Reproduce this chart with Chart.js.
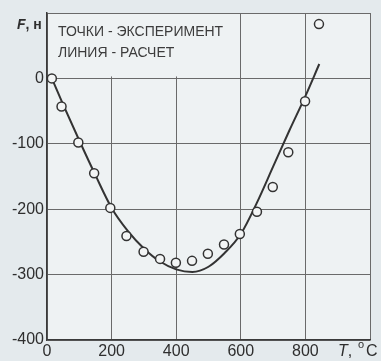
<!DOCTYPE html>
<html>
<head>
<meta charset="utf-8">
<script src="https://cdn.jsdelivr.net/npm/chart.js@4/dist/chart.umd.min.js"></script>
<style>
  html, body { margin: 0; padding: 0; background: #e4eaed; }
  #wrap { width: 381px; height: 361px; }
</style>
</head>
<body>
<div id="wrap"><canvas id="myChart" width="381" height="361"></canvas></div>
<script>
// experiment (points)
var expT = [15, 45, 97, 146, 196, 246, 299, 350, 399, 449, 498, 548, 597, 650, 699, 747, 799, 842];
var expF = [0, -43, -98, -145, -198, -241, -265, -276, -282, -279, -268, -254, -238, -204, -166, -113, -35, 83];
// calculation (line)
var calcT = [15, 50, 100, 150, 200, 250, 300, 350, 400, 450, 500, 550, 600, 650, 700, 750, 800, 843];
var calcF = [0, -40, -95, -148, -198, -233, -260, -280, -292, -296, -288, -267, -238, -190, -135, -80, -27, 22];

var xTicks = [0, 200, 400, 600, 800];
var yTicks = [-400, -300, -200, -100, 0];

var legendLines = ['ТОЧКИ - ЭКСПЕРИМЕНТ', 'ЛИНИЯ - РАСЧЕТ'];

var pageColor = '#e4eaed';
var plotColor = '#eef2f3';
var ink = '#2e2e2e';

function toXY(xs, ys) {
    var out = [];
    for (var i in xs) out.push({x: xs[i], y: ys[i]});
    return out;
}

var paper = {
    id: 'paper',
    beforeDraw: function(chart) {
        var c = chart.ctx, a = chart.chartArea;
        c.save();
        c.fillStyle = pageColor;
        c.fillRect(0, 0, chart.width, chart.height);
        c.fillStyle = plotColor;
        c.fillRect(a.left, a.top, a.right - a.left, a.bottom - a.top);
        c.restore();
    },
    beforeDatasetsDraw: function(chart) {
        // legend box in upper left, hides the grid behind it
        var c = chart.ctx, a = chart.chartArea;
        var sx = chart.scales.x, sy = chart.scales.y;
        var r = sx.getPixelForValue(568), b = sy.getPixelForValue(3);
        c.save();
        c.fillStyle = plotColor;
        c.fillRect(a.left + 1, a.top + 1, r - a.left - 1, b - a.top - 1);
        c.fillStyle = '#3c3c3c';
        c.font = '14px "Liberation Sans", Arial, sans-serif';
        c.textBaseline = 'middle';
        c.fillText(legendLines[0], a.left + 11, a.top + 19);
        c.fillText(legendLines[1], a.left + 11, a.top + 40);
        c.restore();
    },
    afterDraw: function(chart) {
        var c = chart.ctx, a = chart.chartArea;
        c.save();
        c.fillStyle = ink;
        c.textBaseline = 'middle';
        // y title
        c.font = 'italic bold 14px "Liberation Sans", Arial, sans-serif';
        c.fillText('F', 17, a.top + 12);
        var w = c.measureText('F').width;
        c.font = 'bold 14px "Liberation Sans", Arial, sans-serif';
        c.fillText(', н', 17 + w, a.top + 12);
        // x title
        var y = a.bottom + 12;
        c.font = 'italic 16px "Liberation Sans", Arial, sans-serif';
        c.fillText('T', 338, y);
        w = c.measureText('T').width;
        c.font = '16px "Liberation Sans", Arial, sans-serif';
        c.fillText(',', 338 + w, y);
        c.font = '11px "Liberation Sans", Arial, sans-serif';
        c.fillText('o', 358, y - 7);
        c.font = '16px "Liberation Sans", Arial, sans-serif';
        c.fillText('C', 366, y);
        c.restore();
    }
};

var ctx = document.getElementById('myChart').getContext('2d');

var chart = new Chart(ctx, {
    type: 'scatter',
    data: {
        datasets: [
            {
                label: 'расчет',
                data: toXY(calcT, calcF),
                showLine: true,
                borderColor: '#333',
                borderWidth: 2,
                pointRadius: 0,
                cubicInterpolationMode: 'monotone',
                order: 2
            },
            {
                label: 'эксперимент',
                data: toXY(expT, expF),
                showLine: false,
                pointRadius: 4.5,
                pointBorderWidth: 1.5,
                borderColor: '#333',
                backgroundColor: '#f3f5f5',
                order: 1
            }
        ]
    },
    options: {
        responsive: false,
        animation: false,
        layout: { padding: { top: 13, right: 11, left: 0, bottom: 0 } },
        plugins: { legend: { display: false }, tooltip: { enabled: false } },
        scales: {
            x: {
                type: 'linear',
                min: 0, max: 1000,
                afterBuildTicks: function(s) {
                    s.ticks = xTicks.concat([1000]).map(function(v) { return {value: v}; });
                },
                afterFit: function(s) { s.height = 21; },
                ticks: {
                    color: ink,
                    padding: 2,
                    maxRotation: 0,
                    font: { family: '"Liberation Sans", Arial, sans-serif', size: 16 },
                    callback: function(v) { return xTicks.indexOf(v) >= 0 ? String(v) : ''; }
                },
                grid: { color: '#6a6a6a', lineWidth: 1, drawTicks: false },
                border: { color: '#3a3a3a', width: 1.5 }
            },
            y: {
                type: 'linear',
                min: -400, max: 100,
                afterBuildTicks: function(s) {
                    s.ticks = yTicks.concat([100]).map(function(v) { return {value: v}; });
                },
                afterFit: function(s) { s.width = 47; },
                ticks: {
                    color: ink,
                    padding: 3,
                    font: { family: '"Liberation Sans", Arial, sans-serif', size: 16 },
                    callback: function(v) { return yTicks.indexOf(v) >= 0 ? String(v) : ''; }
                },
                grid: { color: '#6a6a6a', lineWidth: 1, drawTicks: false },
                border: { color: '#3a3a3a', width: 1.5 }
            }
        }
    },
    plugins: [paper]
});
</script>
</body>
</html>
